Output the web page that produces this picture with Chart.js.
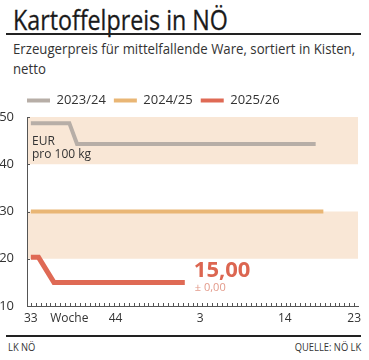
<!DOCTYPE html>
<html>
<head>
<meta charset="utf-8">
<script src="https://cdn.jsdelivr.net/npm/chart.js@4.4.1/dist/chart.umd.min.js"></script>
<style>
  html,body{margin:0;padding:0;background:#fff;}
  #wrap{position:relative;width:369px;height:360px;overflow:hidden;font-family:"Open Sans","Noto Sans",sans-serif;color:#222;}
  .t{position:absolute;white-space:nowrap;transform-origin:0 0;}
  #title{left:13px;top:0px;font-size:28px;color:#1a1a1a;transform:scaleX(0.83);-webkit-text-stroke:0.3px #1a1a1a;}
  #rule1{position:absolute;left:6px;top:33px;width:355px;height:1.5px;background:#222;}
  #sub1{left:13px;top:39px;font-size:14.5px;color:#333;transform:scaleX(0.91);}
  #sub2{left:13px;top:59px;font-size:14.5px;color:#333;transform:scaleX(0.91);}
  #rule2{position:absolute;left:6px;top:335px;width:355px;height:1.5px;background:#222;}
  #foot1{left:8px;top:339px;font-size:11px;color:#333;transform:scaleX(0.85);}
  #foot2{right:8px;top:339px;font-size:11px;color:#333;transform:scaleX(0.85);transform-origin:100% 0;}
  #cv{position:absolute;left:0;top:86px;}
</style>
</head>
<body>
<div id="wrap">
  <div class="t" id="title">Kartoffelpreis in NÖ</div>
  <div id="rule1"></div>
  <div class="t" id="sub1">Erzeugerpreis für mittelfallende Ware, sortiert in Kisten,</div>
  <div class="t" id="sub2">netto</div>
  <canvas id="cv" width="369" height="240"></canvas>
  <div id="rule2"></div>
  <div class="t" id="foot1">LK NÖ</div>
  <div class="t" id="foot2">QUELLE: NÖ LK</div>
</div>
<script>
// ---- data ----
const weeks = ['33','34','35','36','37','38','39','40','41','42','43','44','45','46','47','48','49','50','51','52',
               '1','2','3','4','5','6','7','8','9','10','11','12','13','14','15','16','17','18','19','20','21','22','23'];
const labeledWeeks = ['33','44','3','14','23'];
const axisTitleWeek = '38';           // category under which "Woche" is written
const seriesNames = ['2023/24','2024/25','2025/26'];
const price2324 = [48.7,48.7,48.7,48.7,48.7,48.7,44.3,44.3,44.3,44.3,44.3,44.3,44.3,44.3,44.3,44.3,44.3,44.3,44.3,44.3,
                   44.3,44.3,44.3,44.3,44.3,44.3,44.3,44.3,44.3,44.3,44.3,44.3,44.3,44.3,44.3,44.3,44.3,44.3];
const price2425 = [30,30,30,30,30,30,30,30,30,30,30,30,30,30,30,30,30,30,30,30,
                   30,30,30,30,30,30,30,30,30,30,30,30,30,30,30,30,30,30,30];
const price2526 = [20.3,20.3,null,15,15,15,15,15,15,15,15,15,15,15,15,15,15,15,15,15,15];
const yMin = 10, yMax = 50, yStep = 10;
const bands = [[40,50],[20,30]];
const currentValue = '15,00';
const currentChange = '± 0,00';
const unitLines = ['EUR','pro 100 kg'];

const colors = ['#b7aea7','#e9b675','#df6a55'];
const FONT = '"Open Sans","Noto Sans",sans-serif';

const legendShift = {
  id:'legendShift',
  afterLayout(chart){
    if(chart.legend){ chart.legend.left = chart.chartArea.left - 8; }
  }
};

const bandPlugin = {
  id:'bands',
  beforeDatasetsDraw(chart){
    const {ctx, chartArea:a, scales:{y}} = chart;
    ctx.save();
    ctx.fillStyle = '#f9e7d6';
    bands.forEach(([lo,hi])=>{
      const y1 = y.getPixelForValue(hi), y2 = y.getPixelForValue(lo);
      ctx.fillRect(a.left+1, y1, a.right-a.left-1, y2-y1);
    });
    ctx.restore();
  }
};

const decoPlugin = {
  id:'deco',
  afterDraw(chart){
    const {ctx, chartArea:a, scales:{x,y}} = chart;
    ctx.save();
    ctx.strokeStyle = '#555'; ctx.lineWidth = 1;
    const x0 = x.getPixelForValue(0), x1 = x.getPixelForValue(weeks.length-1);
    const n = 66;
    for(let i=0;i<=n;i++){
      const px = Math.round(x0 + (x1-x0)*i/n)+0.5;
      ctx.beginPath(); ctx.moveTo(px,a.bottom); ctx.lineTo(px,a.bottom-3); ctx.stroke();
    }
    y.ticks.forEach(t=>{
      const py = Math.round(y.getPixelForValue(t.value))+0.5;
      ctx.beginPath(); ctx.moveTo(a.left,py); ctx.lineTo(a.left+3,py); ctx.stroke();
    });
    ctx.fillStyle = '#333';
    ctx.font = '12px '+FONT;
    ctx.textBaseline = 'alphabetic';
    ctx.fillText(unitLines[0], a.left+5, a.top+28);
    ctx.fillText(unitLines[1], a.left+5, a.top+41);
    const meta = chart.getDatasetMeta(2);
    const last = meta.data[meta.data.length-1];
    ctx.fillStyle = '#dc6651';
    ctx.font = 'bold 22px '+FONT;
    ctx.fillText(currentValue, last.x+9, last.y-5);
    ctx.fillStyle = '#e39a8a';
    ctx.font = '11px '+FONT;
    ctx.fillText(currentChange, last.x+10, last.y+9);
    ctx.restore();
  }
};

const mk = (i,data,w)=>({label:seriesNames[i],data,borderColor:colors[i],backgroundColor:colors[i],
  borderWidth:w,pointRadius:0,tension:0,spanGaps:true,borderCapStyle:'butt',borderJoinStyle:'miter'});

new Chart(document.getElementById('cv'),{
  type:'line',
  data:{labels:weeks,datasets:[mk(0,price2324,4),mk(1,price2425,4),mk(2,price2526,5)]},
  options:{
    responsive:false,animation:false,
    layout:{padding:{left:0,right:11,top:0,bottom:0}},
    plugins:{
      legend:{display:true,position:'top',align:'start',
        labels:{boxWidth:23,boxHeight:4,padding:8,color:'#333',font:{family:FONT,size:13},
          generateLabels(chart){
            return chart.data.datasets.map((d,i)=>({text:d.label,fillStyle:d.borderColor,strokeStyle:d.borderColor,lineWidth:0,datasetIndex:i,hidden:false,fontColor:'#333'}));
          }}},
      tooltip:{enabled:false}
    },
    scales:{
      x:{type:'category',offset:true,
        afterFit(s){s.height=20;},
        grid:{display:false},
        border:{display:true,color:'#555',width:1},
        ticks:{autoSkip:false,maxRotation:0,padding:-3,color:'#333',font:{family:FONT,size:12},
          callback(v,i){const w=weeks[i]; if(labeledWeeks.includes(w)) return w; if(w===axisTitleWeek) return 'Woche'; return '';}}
      },
      y:{min:yMin,max:yMax,
        afterFit(s){s.width=27;},
        grid:{display:false},
        border:{display:true,color:'#555',width:1},
        ticks:{stepSize:yStep,padding:5,color:'#333',font:{family:FONT,size:13}}
      }
    }
  },
  plugins:[legendShift,bandPlugin,decoPlugin]
});
</script>
</body>
</html>
